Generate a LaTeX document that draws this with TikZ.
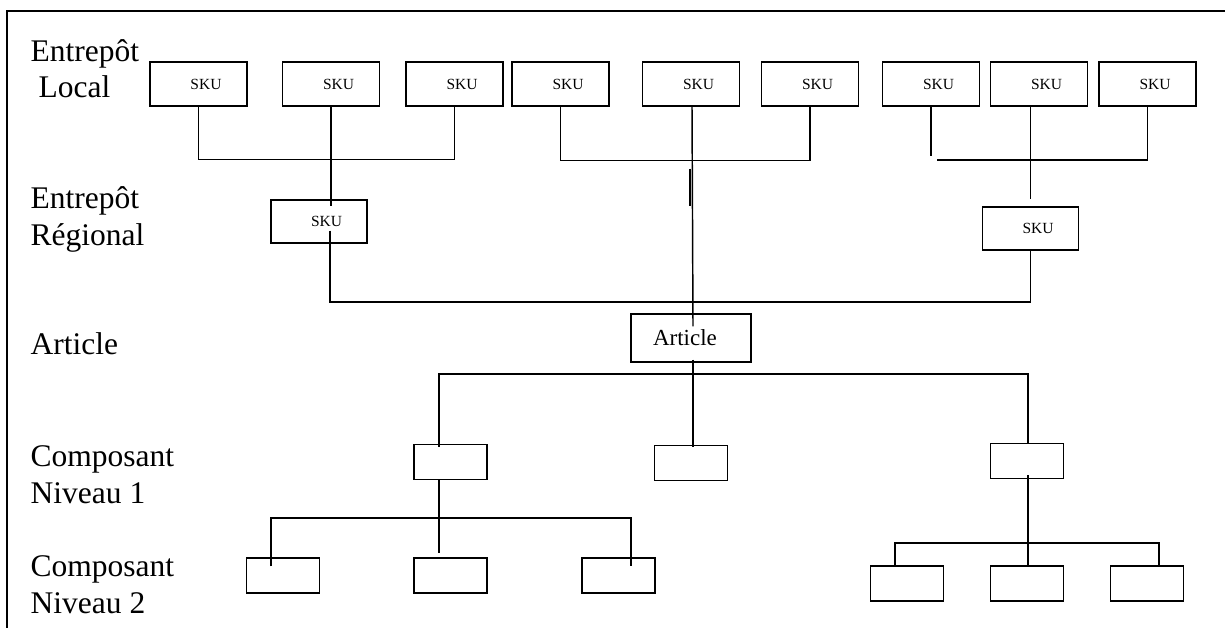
\documentclass[tikz,border=0pt]{standalone}
\usepackage{fontspec}
\setmainfont{Liberation Serif}
\usetikzlibrary{calc}
\begin{document}
\begin{tikzpicture}[x=1pt,y=-1pt,line width=1.45pt,
  tierlabel/.style={anchor=base west,inner sep=0pt,font=\fontsize{31.5}{36}\selectfont},
  skubox/.style={draw,minimum width=97pt,minimum height=44pt,inner sep=0pt,
    font=\fontsize{15.5}{18}\selectfont,execute at begin node=\hspace*{15pt}},
  regbox/.style={skubox,minimum width=96pt,minimum height=43pt},
  artbox/.style={draw,minimum width=120pt,minimum height=48pt,inner sep=0pt,
    font=\fontsize{23}{28}\selectfont},
  compbox/.style={draw,minimum width=73pt,minimum height=35pt,inner sep=0pt}]
\useasboundingbox (0,0) rectangle (1225,628);

% frame
\draw (1225,11) -- (7,11) -- (7,628);

% level labels
\node[tierlabel] (lA1) at (30,62) {Entrepôt};
\node[tierlabel] (lA2) at (38,98) {Local};
\node[tierlabel] (lB1) at (30,209) {Entrepôt};
\node[tierlabel] (lB2) at (30,245) {Régional};
\node[tierlabel] (lC)  at (30,354) {Article};
\node[tierlabel] (lD1) at (30,466) {Composant};
\node[tierlabel] (lD2) at (30,503) {Niveau 1};
\node[tierlabel] (lE1) at (30,576) {Composant};
\node[tierlabel] (lE2) at (30,613) {Niveau 2};

% local warehouse SKUs
\node[skubox] (t1) at (198.5,84) {SKU};
\node[skubox] (t2) at (331,84)   {SKU};
\node[skubox] (t3) at (454.5,84) {SKU};
\node[skubox] (t4) at (560.5,84) {SKU};
\node[skubox] (t5) at (691,84)   {SKU};
\node[skubox] (t6) at (810,84)   {SKU};
\node[skubox] (t7) at (931,84)   {SKU};
\node[skubox] (t8) at (1039,84)  {SKU};
\node[skubox] (t9) at (1147.5,84){SKU};

% regional warehouse SKUs
\node[regbox] (r1) at (319,221.5)   {SKU};
\node[regbox] (r2) at (1030.5,228.5){SKU};

% article
\node[artbox] (art) at (691,338) {Article\hspace*{12pt}};

% level 1 components
\node[compbox] (c1) at (450.5,462) {};
\node[compbox] (c2) at (691,463)   {};
\node[compbox] (c3) at (1027,461)  {};

% level 2 components
\node[compbox] (d1) at (283,575.5)   {};
\node[compbox] (d2) at (450.5,575.5) {};
\node[compbox] (d3) at (618.5,575.5) {};
\node[compbox] (e1) at (907,583.5)   {};
\node[compbox] (e2) at (1027,583.5)  {};
\node[compbox] (e3) at (1147,583.5)  {};

% junction points
\coordinate (hub)  at (693,302);
\coordinate (abar) at (693,374);
\coordinate (lbar) at (439,518);
\coordinate (rbar) at (1028,543);

% group 1 -> regional r1
\draw (t1.south) -- ++(0,53) -| (t3.south);
\draw (t2.south) -- ($(t2.south |- r1.north)+(0,7)$);
% group 2 -> article
\draw (t4.south) -- ++(0,54) -| (t6.south);
\draw ($(t5.south)+(1,0)$) -- ($(art.north)+(2,13)$);
\draw ($(t5.south)+(-1,62)$) -- ++(0,37);
% group 3 -> regional r2
\draw (t7.south) -- ++(0,49);
\draw ($(t7.south)+(6,53.5)$) -| (t9.south);
\draw (t8.south -| r2.north) -- ($(r2.north)+(0,-7)$);

% regional -> article
\draw ($(t2.south |- r1.south)+(-1,-13)$) |- (hub) -| (r2.south);

% article -> level 1
\draw ($(art.south)+(2,-3)$) -- ($(c2.north)+(2,2)$);
\draw ($(c1.north)+(-11.5,3)$) |- (abar) -| ($(c3.north)+(1,0)$);

% level 1 -> level 2 (left)
\draw ($(c1.south)+(-11.5,0)$) -- ++(0,73);
\draw ($(d1.north)+(-12,9)$) |- (lbar) -| ($(d3.north)+(12.5,9)$);

% level 1 -> level 2 (right)
\draw ($(c3.south)+(1,-4)$) -- ($(e2.north)+(1,0)$);
\draw ($(e1.north)+(-12,0)$) |- (rbar) -| ($(e3.north)+(12,0)$);
\end{tikzpicture}
\end{document}
